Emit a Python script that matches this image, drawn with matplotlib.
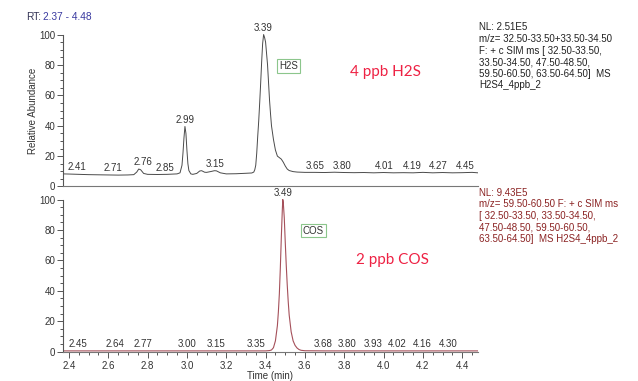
import numpy as np
import matplotlib
matplotlib.use("Agg")
import matplotlib.pyplot as plt
from matplotlib.ticker import MultipleLocator
from matplotlib.transforms import offset_copy

# ---- data ----
h2s_t = [2.37, 2.40, 2.45, 2.50, 2.55, 2.60, 2.65, 2.70, 2.73, 2.745, 2.755, 2.765, 2.78, 2.80,
         2.85, 2.90, 2.95, 2.965, 2.975, 2.98, 2.985, 2.99, 2.995, 3.00, 3.005, 3.01, 3.02, 3.03,
         3.05, 3.065, 3.075, 3.09, 3.10, 3.12, 3.14, 3.15, 3.17, 3.20, 3.25, 3.30, 3.33, 3.34,
         3.345, 3.35, 3.355, 3.36, 3.365, 3.37, 3.375, 3.38, 3.385, 3.39, 3.395, 3.40, 3.41,
         3.42, 3.425, 3.43, 3.44, 3.45, 3.46, 3.47, 3.48, 3.49, 3.50, 3.51, 3.52, 3.54, 3.56,
         3.60, 3.65, 3.70, 3.75, 3.80, 3.85, 3.90, 3.95, 4.00, 4.05, 4.10, 4.15, 4.20, 4.25,
         4.30, 4.35, 4.40, 4.45, 4.48]
h2s_y = [8.3, 8.2, 8.0, 7.8, 7.7, 7.6, 7.5, 7.6, 7.8, 9.5, 11.5, 11.0, 8.6, 8.0,
         7.9, 8.0, 8.3, 9.0, 14, 22, 32, 39.5, 35, 24, 15, 10.5, 8.3, 8.0,
         8.6, 10.2, 10.4, 9.4, 9.3, 9.8, 10.4, 10.3, 9.0, 8.3, 8.4, 8.7, 8.9, 9.5,
         11, 14, 22, 33, 43, 55, 68, 82, 94, 100, 98, 95, 80,
         57, 48, 40, 31, 24, 20, 19, 18, 16, 13.5, 11.5, 10.5, 9.8, 9.5,
         9.3, 9.3, 9.2, 9.4, 9.2, 9.1, 9.2, 9.0, 9.2, 9.0, 9.1, 9.0, 9.3, 9.0,
         9.2, 9.0, 9.1, 9.3, 9.0]

cos_t = [2.37, 2.50, 2.70, 2.90, 3.10, 3.30, 3.40, 3.42, 3.43, 3.44, 3.45, 3.46, 3.465, 3.47,
         3.475, 3.48, 3.485, 3.4875, 3.49, 3.495, 3.50, 3.505, 3.51, 3.515, 3.52, 3.53, 3.54,
         3.55, 3.56, 3.57, 3.58, 3.60, 3.70, 3.90, 4.10, 4.30, 4.48]
cos_y = [0.4, 0.4, 0.4, 0.4, 0.4, 0.4, 0.4, 0.6, 1.0, 2.5, 7, 17, 26, 38,
         55, 75, 93, 100, 98, 88, 72, 57, 44, 33, 24, 13, 7,
         4, 2.3, 1.3, 0.8, 0.5, 0.4, 0.4, 0.4, 0.4, 0.4]

h2s_labels = [2.41, 2.71, 2.76, 2.85, 2.99, 3.15, 3.39, 3.65, 3.80, 4.01, 4.19, 4.27, 4.45]
cos_labels = [2.45, 2.64, 2.77, 3.00, 3.15, 3.35, 3.49, 3.68, 3.80, 3.93, 4.02, 4.16, 4.30]

x_ticks = [2.4, 2.6, 2.8, 3.0, 3.2, 3.4, 3.6, 3.8, 4.0, 4.2, 4.4]
y_ticks = [0, 20, 40, 60, 80, 100]

top_info = ("NL: 2.51E5\nm/z= 32.50-33.50+33.50-34.50\nF: + c SIM ms [ 32.50-33.50,\n"
            "33.50-34.50, 47.50-48.50,\n59.50-60.50, 63.50-64.50]  MS\nH2S4_4ppb_2")
bot_info = ("NL: 9.43E5\nm/z= 59.50-60.50 F: + c SIM ms\n[ 32.50-33.50, 33.50-34.50,\n"
            "47.50-48.50, 59.50-60.50,\n63.50-64.50]  MS H2S4_4ppb_2")

# label nudges in pixels (layout only)
h2s_label_dx = [6, -17, 3, 8, 0, -1, 0, 0, -2, -1, -9, 1, -7]
cos_label_dx = [-1, -1, 1, 0, 0, 0, 0, 2, 3, 3, 10, 7, 6]

# ---- figure ----
W, H = 638, 381
plt.rcParams['font.family'] = ['Liberation Sans', 'DejaVu Sans']
fig = plt.figure(figsize=(W / 100, H / 100), dpi=100)

def fx(px):
    return px / W

def fy(py):
    return 1 - py / H

xmin, xmax = 2.37, 4.48
ytop = 102
ax_left = fx(63)
ax_w = fx(478) - fx(63)
ax_h = 155 / H
ax1 = fig.add_axes([ax_left, fy(186.5), ax_w, ax_h])
ax2 = fig.add_axes([ax_left, fy(351.5), ax_w, ax_h])

axis_col = '#555555'
for ax in (ax1, ax2):
    ax.set_xlim(xmin, xmax)
    ax.set_ylim(0, ytop)
    for s in ('top', 'right'):
        ax.spines[s].set_visible(False)
    ax.spines['left'].set_bounds(0, 100)
    ax.spines['left'].set_color(axis_col)
    ax.spines['bottom'].set_color('#777777')
    ax.spines['left'].set_linewidth(0.8)
    ax.spines['bottom'].set_linewidth(0.8)
    ax.set_yticks(y_ticks)
    ax.yaxis.set_minor_locator(MultipleLocator(5))
    ax.tick_params(axis='y', which='major', length=4.5, width=0.7, color=axis_col,
                   labelsize=7, pad=1, labelcolor='#333333')
    ax.tick_params(axis='y', which='minor', length=2.5, width=0.7, color=axis_col)

ax1.tick_params(axis='x', which='both', bottom=False, labelbottom=False)
ax2.set_xticks(x_ticks)
ax2.set_xticklabels([f"{v:.1f}" for v in x_ticks])
ax2.xaxis.set_minor_locator(MultipleLocator(0.05))
ax2.tick_params(axis='x', which='major', length=4.5, width=0.7, color=axis_col,
                labelsize=7, pad=2, labelcolor='#333333')
ax2.tick_params(axis='x', which='minor', length=2.5, width=0.7, color=axis_col)

ax1.plot(h2s_t, h2s_y, color='#4a4a4a', lw=0.7)
ax2.plot(cos_t, cos_y, color='#a5505a', lw=0.8)

def put_labels(ax, labels, dxs, tt, yy, wide):
    tt = np.array(tt)
    yy = np.array(yy)
    for t, dx in zip(labels, dxs):
        mask = (tt >= t - wide) & (tt <= t + wide)
        ymax = max(yy[mask].max(initial=-np.inf), np.interp(t, tt, yy))
        tr = offset_copy(ax.transData, fig=fig, x=dx, y=0, units='dots')
        ax.text(t, ymax + 1.2, f"{t:.2f}", ha='center', va='bottom', fontsize=7,
                color='#333333', clip_on=False, transform=tr)

put_labels(ax1, h2s_labels, h2s_label_dx, h2s_t, h2s_y, 0.006)
put_labels(ax2, cos_labels, cos_label_dx, cos_t, cos_y, 0.006)

fig.text(fx(33), fy(111), "Relative Abundance", rotation=90, ha='center', va='center',
         fontsize=7, color='#333333')
fig.text(fx(270), fy(376), "Time (min)", ha='center', va='center', fontsize=7, color='#333333')

fig.text(fx(26), fy(17), "RT:", ha='left', va='center', fontsize=7.3, color='#333355')
fig.text(fx(43), fy(17), "2.37 - 4.48", ha='left', va='center', fontsize=7.3, color='#3a3aa0')

fig.text(fx(479), fy(22.5), top_info, ha='left', va='top', fontsize=7, color='#222222',
         linespacing=1.2)
fig.text(fx(479), fy(187.5), bot_info, ha='left', va='top', fontsize=7, color='#8b2323',
         linespacing=1.2)

box = dict(boxstyle='square,pad=0.2', fc='white', ec='#8cc68c', lw=0.8)
fig.text(fx(288.5), fy(66), "H2S", ha='center', va='center', fontsize=7, color='#333333', bbox=box)
fig.text(fx(313.5), fy(230.5), "COS", ha='center', va='center', fontsize=7, color='#333333', bbox=box)

red = '#ee2244'
fig.text(fx(385), fy(72), "4 ppb H2S", ha='center', va='center', fontsize=11,
         color=red, family=['Lato', 'DejaVu Sans'])
fig.text(fx(392), fy(260), "2 ppb COS", ha='center', va='center', fontsize=11,
         color=red, family=['Lato', 'DejaVu Sans'])

fig.savefig("out.png", dpi=100)
